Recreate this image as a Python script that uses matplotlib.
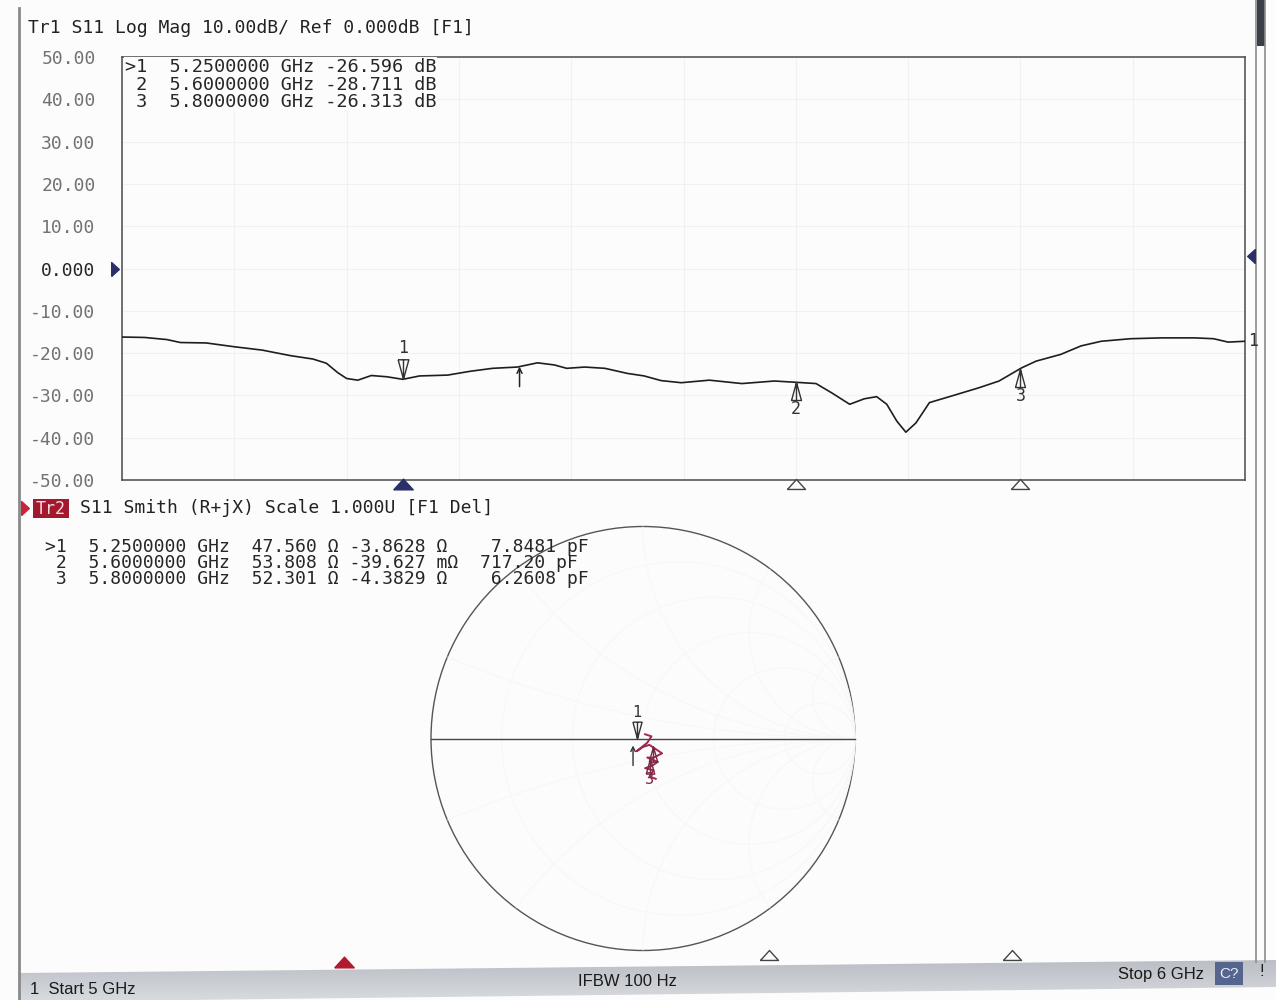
import numpy as np
import matplotlib
matplotlib.use("Agg")
import matplotlib.pyplot as plt
from matplotlib.path import Path
from matplotlib.patches import Rectangle, Circle, Polygon
import matplotlib.transforms as mtransforms

# ---------------- data ----------------
freq_ghz = [5.000, 5.020, 5.040, 5.052, 5.075, 5.100, 5.125, 5.150, 5.170, 5.182,
            5.192, 5.200, 5.210, 5.222, 5.236, 5.250, 5.265, 5.290, 5.310, 5.330,
            5.352, 5.370, 5.385, 5.396, 5.412, 5.430, 5.450, 5.465, 5.480, 5.498,
            5.523, 5.552, 5.581, 5.600, 5.618, 5.632, 5.648, 5.661, 5.672, 5.681,
            5.690, 5.698, 5.707, 5.719, 5.738, 5.763, 5.781, 5.801, 5.814, 5.836,
            5.854, 5.872, 5.898, 5.926, 5.955, 5.972, 5.985, 6.000]
s11_db = [-16.2, -16.3, -16.8, -17.5, -17.6, -18.5, -19.3, -20.6, -21.4, -22.4,
          -24.6, -26.0, -26.4, -25.3, -25.6, -26.2, -25.4, -25.2, -24.3, -23.6,
          -23.3, -22.3, -22.8, -23.6, -23.3, -23.6, -24.8, -25.4, -26.5, -27.0,
          -26.4, -27.2, -26.6, -26.9, -27.2, -29.4, -32.1, -30.8, -30.3, -32.1,
          -36.1, -38.7, -36.5, -31.7, -30.2, -28.2, -26.6, -23.5, -21.9, -20.3,
          -18.3, -17.2, -16.6, -16.4, -16.4, -16.6, -17.4, -17.2]

marker_ids = ["1", "2", "3"]
marker_ghz = [5.25, 5.60, 5.80]
marker_freq_text = ["5.2500000 GHz", "5.6000000 GHz", "5.8000000 GHz"]
marker_db_text = ["-26.596", "-28.711", "-26.313"]
ref_arrow_ghz = 5.354

ytick_vals = [50, 40, 30, 20, 10, 0, -10, -20, -30, -40, -50]
ytick_labels = ["50.00", "40.00", "30.00", "20.00", "10.00", "0.000",
                "-10.00", "-20.00", "-30.00", "-40.00", "-50.00"]

smith_re = [0.01, 0.04, 0.02, -0.03, 0.00, 0.03, 0.06, 0.09, 0.05, 0.02,
            0.07, 0.04, 0.01, 0.05, 0.03, 0.06]
smith_im = [0.02, 0.01, -0.02, -0.06, -0.04, -0.03, -0.05, -0.07, -0.09, -0.09,
            -0.11, -0.13, -0.14, -0.15, -0.18, -0.19]
smith_marker_re = [-0.028, 0.045, 0.033]
smith_marker_im = [0.0, -0.035, -0.09]
smith_ref_re = -0.047
smith_ref_im = -0.033
smith_r_text = ["47.560 \u03a9", "53.808 \u03a9", "52.301 \u03a9"]
smith_x_text = ["-3.8628 \u03a9 ", "-39.627 m\u03a9", "-4.3829 \u03a9 "]
smith_c_text = [" 7.8481 pF", "717.20 pF", " 6.2608 pF"]

# ---------------- figure ----------------
W, H = 1276, 1000
MONO = "DejaVu Sans Mono"
SANS = "Liberation Sans"
plt.rcParams["font.family"] = [MONO]

fig = plt.figure(figsize=(12.76, 10.0), dpi=100, facecolor="#fcfcfc")
bg = fig.add_axes([0, 0, 1, 1])
bg.set_xlim(0, W)
bg.set_ylim(H, 0)
bg.axis("off")
bg.set_zorder(0)


def fbox(l, t, r, b):
    return [l / W, 1 - b / H, (r - l) / W, (b - t) / H]


M, L = Path.MOVETO, Path.LINETO
tri_down = Path([(-0.55, 1), (0.55, 1), (0, -1), (-0.55, 1), (0, -1), (0, 1)],
                [M, L, L, L, M, L])
tri_up = Path([(-0.55, -1), (0.55, -1), (0, 1), (-0.55, -1), (0, 1), (0, -1)],
              [M, L, L, L, M, L])
flat_up = Path([(-1, -0.55), (1, -0.55), (0, 0.55), (-1, -0.55)], [M, L, L, L])
arrow_right = Path([(-0.55, -1), (-0.55, 1), (0.55, 0), (-0.55, -1)], [M, L, L, L])
arrow_left = Path([(0.55, -1), (0.55, 1), (-0.55, 0), (0.55, -1)], [M, L, L, L])

NAVY = "#2b2f6a"

# ---------------- frame decorations ----------------
bg.plot([19, 19], [8, 1000], color="#8a8a8a", lw=2.0)
bg.plot([1256, 1256], [0, 962], color="#8c8c8c", lw=1.2)
bg.plot([1265, 1265], [0, 962], color="#8c8c8c", lw=1.2)
bg.add_patch(Rectangle((1257, 0), 8, 46, color="#3c3f48", lw=0))

# ---------------- top: Log Mag ----------------
bg.text(28, 28, "Tr1 S11 Log Mag 10.00dB/ Ref 0.000dB [F1]", fontsize=13,
        va="center", ha="left", color="#222222")

ax1 = fig.add_axes(fbox(122, 57, 1245, 480))
ax1.set_zorder(2)
ax1.patch.set_alpha(0)
ax1.set_xlim(5.0, 6.0)
ax1.set_ylim(-50, 50)
ax1.set_yticks(ytick_vals, labels=ytick_labels)
ax1.set_xticks(np.linspace(5.0, 6.0, 11))
ax1.set_xticklabels([])
ax1.tick_params(axis="both", length=0)
ax1.tick_params(axis="y", pad=19, labelsize=13, labelcolor="#727272")
for lbl in ax1.get_yticklabels():
    if lbl.get_text() == "0.000":
        lbl.set_color("#262626")
ax1.grid(True, color="#f1f1f1", lw=0.8)
for s in ax1.spines.values():
    s.set_color("#4a4a4a")
    s.set_linewidth(1.1)

ax1.plot(freq_ghz, s11_db, color="#1e1e1e", lw=1.2, zorder=3)

marker_db_pos = np.interp(marker_ghz, freq_ghz, s11_db)
for i, (f, v) in enumerate(zip(marker_ghz, marker_db_pos)):
    if i == 0:
        tr = mtransforms.offset_copy(ax1.transData, fig=fig, y=10, units="dots")
        ax1.plot([f], [v], marker=tri_down, ms=14, mfc="none", mec="#333333",
                 mew=1.0, transform=tr, clip_on=False, zorder=4)
        trl = mtransforms.offset_copy(ax1.transData, fig=fig, y=31, units="dots")
        ax1.text(f, v, marker_ids[i], transform=trl, ha="center", va="center",
                 fontsize=12, color="#333333")
    else:
        tr = mtransforms.offset_copy(ax1.transData, fig=fig, y=-9, units="dots")
        ax1.plot([f], [v], marker=tri_up, ms=13, mfc="none", mec="#333333",
                 mew=1.0, transform=tr, clip_on=False, zorder=4)
        trl = mtransforms.offset_copy(ax1.transData, fig=fig, y=-27, units="dots")
        ax1.text(f, v, marker_ids[i], transform=trl, ha="center", va="center",
                 fontsize=12, color="#333333")

ref_db = float(np.interp(ref_arrow_ghz, freq_ghz, s11_db))
ax1.annotate("", xy=(ref_arrow_ghz, ref_db), xytext=(0, -20),
             textcoords="offset pixels",
             arrowprops=dict(arrowstyle="->", color="#222222", lw=1.1,
                             shrinkA=0, shrinkB=0, mutation_scale=9))

# right end trace label
tr_end = mtransforms.offset_copy(
    mtransforms.blended_transform_factory(ax1.transAxes, ax1.transData),
    fig=fig, x=3, units="dots")
ax1.text(1.0, s11_db[-1], "1", transform=tr_end, ha="left", va="center",
         fontsize=12, color="#333333")

# reference level arrows
tr_l = mtransforms.offset_copy(
    mtransforms.blended_transform_factory(ax1.transAxes, ax1.transData),
    fig=fig, x=-7, units="dots")
ax1.plot([0], [0], marker=arrow_right, ms=10, color=NAVY, mec=NAVY,
         transform=tr_l, clip_on=False)
tr_r = mtransforms.offset_copy(
    mtransforms.blended_transform_factory(ax1.transAxes, ax1.transData),
    fig=fig, x=6, y=13, units="dots")
ax1.plot([1], [0], marker=arrow_left, ms=10, color=NAVY, mec=NAVY,
         transform=tr_r, clip_on=False)

# marker position triangles under the axis
tr_b = mtransforms.offset_copy(
    mtransforms.blended_transform_factory(ax1.transData, ax1.transAxes),
    fig=fig, y=-4, units="dots")
for i, f in enumerate(marker_ghz):
    if i == 0:
        ax1.plot([f], [0], marker=flat_up, ms=14, color=NAVY, mec=NAVY,
                 transform=tr_b, clip_on=False, zorder=5)
    else:
        ax1.plot([f], [0], marker=flat_up, ms=13, mfc="#fcfcfc", mec="#444444",
                 mew=1.0, transform=tr_b, clip_on=False, zorder=5)

# marker readout (top) - drawn with ax1 so it sits above the grid
for i in range(3):
    prefix = ">" + marker_ids[i] if i == 0 else " " + marker_ids[i]
    line = f"{prefix}  {marker_freq_text[i]} {marker_db_text[i]} dB"
    ax1.text(125, 67 + 17.5 * i, line, transform=bg.transData, fontsize=13.3,
             va="center", ha="left", color="#262626", zorder=6,
             bbox=dict(boxstyle="square,pad=0.05", fc="#fcfcfc", ec="none"))

# ---------------- bottom: Smith ----------------
bg.plot([25], [508], marker=arrow_right, ms=10, color="#c8243c")
bg.add_patch(Rectangle((33, 499), 36, 19, color="#a3182f", lw=0))
bg.text(51, 508.5, "Tr2", fontsize=12, color="#f6dede", ha="center", va="center")
bg.text(80, 508, "S11 Smith (R+jX) Scale 1.000U [F1 Del]", fontsize=13,
        va="center", ha="left", color="#222222")

cx, cy, R = 643, 738.5, 212.0
span = 1.1
ax2 = fig.add_axes(fbox(cx - span * R, cy - span * R, cx + span * R, cy + span * R))
ax2.set_zorder(1)
ax2.patch.set_alpha(0)
ax2.set_xlim(-span, span)
ax2.set_ylim(-span, span)
ax2.axis("off")

unit = Circle((0, 0), 1.0, transform=ax2.transData, fill=False)
th = np.linspace(0, 2 * np.pi, 400)
for r in [0.2, 0.5, 1.0, 2.0, 5.0]:
    c0, rad = r / (1 + r), 1 / (1 + r)
    ax2.plot(c0 + rad * np.cos(th), rad * np.sin(th), color="#f7f7f7", lw=0.7)
for x in [0.2, 0.5, 1.0, 2.0, 5.0, -0.2, -0.5, -1.0, -2.0, -5.0]:
    rad = 1 / abs(x)
    ln, = ax2.plot(1 + rad * np.cos(th), 1 / x + rad * np.sin(th),
                   color="#f7f7f7", lw=0.7)
    ln.set_clip_path(unit)
ax2.add_patch(Circle((0, 0), 1.0, fill=False, ec="#555555", lw=1.0))
ax2.plot([-1, 1], [0, 0], color="#444444", lw=1.0)

ax2.plot(smith_re, smith_im, color="#9c2a4c", lw=1.4, zorder=4)

for i in range(3):
    mr, mi = smith_marker_re[i], smith_marker_im[i]
    if i == 0:
        tr = mtransforms.offset_copy(ax2.transData, fig=fig, y=9, units="dots")
        ax2.plot([mr], [mi], marker=tri_down, ms=12, mfc="none", mec="#333333",
                 mew=1.0, transform=tr, zorder=5)
        trl = mtransforms.offset_copy(ax2.transData, fig=fig, y=26, units="dots")
        ax2.text(mr, mi, "1", transform=trl, ha="center", va="center",
                 fontsize=11, color="#333333")
    else:
        tr = mtransforms.offset_copy(ax2.transData, fig=fig, y=-8, units="dots")
        ax2.plot([mr], [mi], marker=tri_up, ms=11, mfc="none", mec="#7a2a44",
                 mew=1.0, transform=tr, zorder=5)
        if i == 2:
            trl = mtransforms.offset_copy(ax2.transData, fig=fig, y=-22, units="dots")
            ax2.text(mr, mi, "3", transform=trl, ha="center", va="center",
                     fontsize=11, color="#7a2a44")
ax2.annotate("", xy=(smith_ref_re, smith_ref_im), xytext=(0, -20),
             textcoords="offset pixels",
             arrowprops=dict(arrowstyle="->", color="#333333", lw=1.0,
                             shrinkA=0, shrinkB=0, mutation_scale=8))

# Smith marker readout, drawn above the Smith axes
for i in range(3):
    prefix = ">" + marker_ids[i] if i == 0 else " " + marker_ids[i]
    line = (f"{prefix}  {marker_freq_text[i]}  {smith_r_text[i]} "
            f"{smith_x_text[i]}  {smith_c_text[i]}")
    ax2.text(45, 547 + 16.2 * i, line, transform=bg.transData, fontsize=13,
             va="center", ha="left", color="#262626", zorder=6, clip_on=False)

# marker position triangles for the Smith channel (frequency strip)
ax3 = fig.add_axes(fbox(40, 945, 1255, 968))
ax3.set_zorder(3)
ax3.patch.set_alpha(0)
ax3.set_xlim(5.0, 6.0)
ax3.set_ylim(0, 1)
ax3.axis("off")
for i, f in enumerate(marker_ghz):
    if i == 0:
        ax3.plot([f], [0.25], marker=flat_up, ms=14, color="#b0192e",
                 mec="#b0192e", clip_on=False)
    else:
        ax3.plot([f], [0.55], marker=flat_up, ms=13, mfc="#fcfcfc",
                 mec="#444444", mew=1.0, clip_on=False)

# ---------------- status bar ----------------
grad = np.linspace(0, 1, 50).reshape(-1, 1)
bar_poly = Polygon([(20, 973), (1276, 960), (1276, 987), (20, 1002)],
                   closed=True, transform=bg.transData)
im = bg.imshow(grad, extent=[20, 1276, 1002, 958], cmap=matplotlib.colors.
               LinearSegmentedColormap.from_list("bar", ["#b9bdc4", "#d8dbdf"]),
               aspect="auto", zorder=1)
im.set_clip_path(bar_poly)
bg.set_xlim(0, W)
bg.set_ylim(H, 0)

bg.text(30, 989, "1  Start 5 GHz", family=SANS, fontsize=12, va="center",
        ha="left", color="#1a1a1a", zorder=3)
bg.text(578, 982, "IFBW 100 Hz", family=SANS, fontsize=12, va="center",
        ha="left", color="#1a1a1a", zorder=3)
bg.text(1118, 974, "Stop 6 GHz", family=SANS, fontsize=12, va="center",
        ha="left", color="#1a1a1a", zorder=3)
bg.add_patch(Rectangle((1215, 962), 28, 23, color="#56658e", lw=0, zorder=2))
bg.text(1229, 973.5, "C?", family=SANS, fontsize=11, va="center", ha="center",
        color="#e8ecf5", zorder=3)
bg.text(1262, 972, "!", family=SANS, fontsize=12, va="center", ha="center",
        color="#1a1a1a", zorder=3)

fig.savefig("out.png", dpi=100, facecolor=fig.get_facecolor())
